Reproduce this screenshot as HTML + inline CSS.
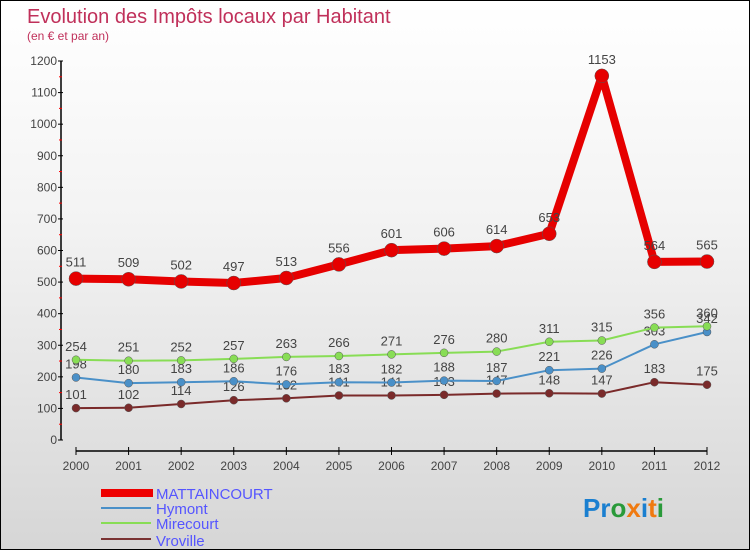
<!DOCTYPE html>
<html><head><meta charset="utf-8"><style>
body{margin:0}
#c{width:748px;height:548px;border:1px solid #000;background:linear-gradient(#fff,#f3f3f3 40%,#d6d6d6);position:relative;font-family:"Liberation Sans",sans-serif;overflow:hidden}
text{font-family:"Liberation Sans",sans-serif}
</style></head><body>
<div id="c">
<svg id="s" width="748" height="548">
<text x="26" y="22" font-size="20" fill="#c0305a">Evolution des Impôts locaux par Habitant</text>
<text x="26" y="39" font-size="12" fill="#c0305a">(en € et par an)</text>
<g id="ax"></g><g id="ser"></g>
<g>
<rect x="100" y="488" width="52" height="8" fill="#e00"/>
<text x="155" y="498" font-size="15" fill="#5555ff">MATTAINCOURT</text>
<line x1="100" y1="507" x2="150" y2="507" stroke="#4a90c8" stroke-width="2"/>
<text x="155" y="513" font-size="15" fill="#5555ff">Hymont</text>
<line x1="100" y1="522" x2="150" y2="522" stroke="#88dd55" stroke-width="2"/>
<text x="155" y="528" font-size="15" fill="#5555ff">Mirecourt</text>
<line x1="100" y1="538" x2="150" y2="538" stroke="#7a3333" stroke-width="2"/>
<text x="155" y="545" font-size="15" fill="#5555ff">Vroville</text>
</g>
<text x="582" y="516" font-size="26" font-weight="bold"><tspan fill="#1a7fd0">Pr</tspan><tspan fill="#2a9a3a">o</tspan><tspan fill="#f07a10">x</tspan><tspan fill="#1a7fd0">i</tspan><tspan fill="#f07a10">t</tspan><tspan fill="#2a9a3a">i</tspan></text>
</svg>
</div>
<script>
const years=["2000","2001","2002","2003","2004","2005","2006","2007","2008","2009","2010","2011","2012"];
const mattaincourt=[511,509,502,497,513,556,601,606,614,653,1153,564,565];
const hymont=[198,180,183,186,176,183,182,188,187,221,226,303,342];
const mirecourt=[254,251,252,257,263,266,271,276,280,311,315,356,360];
const vroville=[101,102,114,126,132,141,141,143,147,148,147,183,175];
const yTicks=[0,100,200,300,400,500,600,700,800,900,1000,1100,1200];
const NS="http://www.w3.org/2000/svg";
const X=i=>75+i*(631/12), Y=v=>439-v*(379/1200);
function mk(t,a,p){const e=document.createElementNS(NS,t);for(const k in a)e.setAttribute(k,a[k]);p.appendChild(e);return e;}
const ax=document.getElementById('ax');
let l=mk('line',{x1:60,y1:Y(1200),x2:60,y2:Y(0),stroke:'#000','stroke-width':1.5},ax);


yTicks.forEach(v=>{
 mk('line',{x1:57,y1:Y(v),x2:62,y2:Y(v),stroke:'#000'},ax);
 if(v<1200)mk('line',{x1:58,y1:Y(v+50),x2:61,y2:Y(v+50),stroke:'#f00'},ax);
 const t=mk('text',{x:56,y:Y(v)+4,'font-size':12,'text-anchor':'end',fill:'#444'},ax);t.textContent=v;
 
 
});
l=mk('line',{x1:X(0),y1:450,x2:X(12),y2:450,stroke:'#000','stroke-width':1.5},ax);


years.forEach((y,i)=>{
 mk('line',{x1:X(i),y1:446,x2:X(i),y2:454,stroke:'#000'},ax);
 const t=mk('text',{x:X(i),y:469,'font-size':12,'text-anchor':'middle',fill:'#444'},ax);t.textContent=y;
 
 
});
const ser=document.getElementById('ser');
function draw(name,data,color,w,r){
 const g=mk('g',{},ser);
 
 
 const p=mk('polyline',{points:data.map((v,i)=>X(i)+','+Y(v)).join(' '),fill:'none',stroke:color,'stroke-width':w,'stroke-linejoin':'round'},g);
 
 
 data.forEach((v,i)=>{
  const c=mk('circle',{cx:X(i),cy:Y(v),r:r,fill:color,stroke:'#555','stroke-width':0.5},g);
  
  
  const t=mk('text',{x:X(i),y:Y(v)-(r+5),'font-size':13,'text-anchor':'middle',fill:'#444'},g);t.textContent=v;
  
  
 });
}
draw('vroville',vroville,'#7a2a2a',2,4);
draw('hymont',hymont,'#4a90c8',2,4);
draw('mirecourt',mirecourt,'#88dd55',2,4);
draw('mattaincourt',mattaincourt,'#e60000',8,7);
</script>
</body></html>
